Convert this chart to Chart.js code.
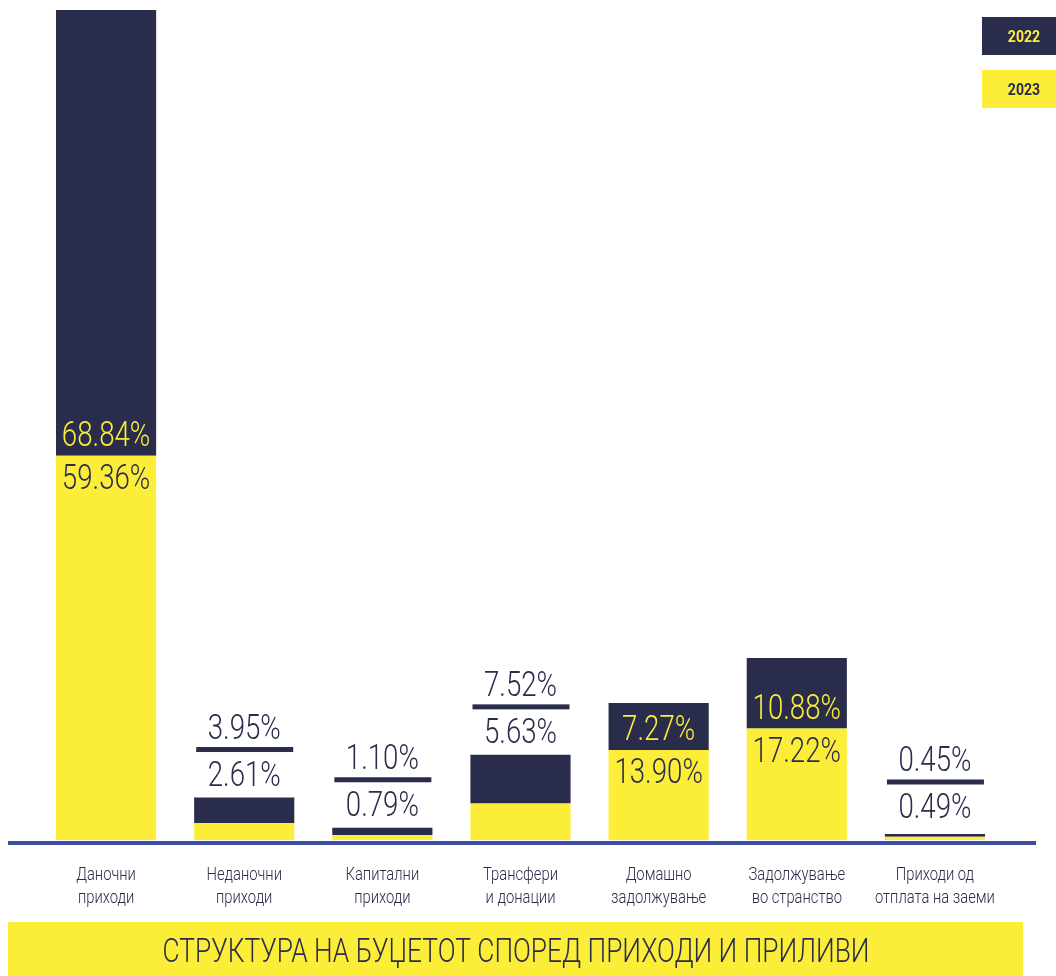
<!DOCTYPE html>
<html>
<head>
<meta charset="utf-8">
<script src="https://cdn.jsdelivr.net/npm/chart.js@4"></script>
<style>
  body { margin: 0; background: #fff; }
  canvas { display: block; }
</style>
</head>
<body>
<canvas id="chart" width="1056" height="976"></canvas>
<script>
// податоци
const categories = [
    ['Даночни', 'приходи'],
    ['Неданочни', 'приходи'],
    ['Капитални', 'приходи'],
    ['Трансфери', 'и донации'],
    ['Домашно', 'задолжување'],
    ['Задолжување', 'во странство'],
    ['Приходи од', 'отплата на заеми']
];
const values2022 = [68.84, 3.95, 1.10, 7.52, 7.27, 10.88, 0.45];
const values2023 = [59.36, 2.61, 0.79, 5.63, 13.90, 17.22, 0.49];
const seriesLabels = ['2022', '2023'];
const chartTitle = 'СТРУКТУРА НА БУЏЕТОТ СПОРЕД ПРИХОДИ И ПРИЛИВИ';

const NAVY = '#292c4b';
const YELLOW = '#fcee38';
const BLUE = '#3c4c9e';

const yMax = Math.max(...values2022.map((v, i) => v + values2023[i]));

function drawText(ctx, text, x, y, font, color, sx) {
    ctx.save();
    ctx.font = font;
    ctx.fillStyle = color;
    ctx.textAlign = 'center';
    ctx.translate(x, y);
    ctx.scale(sx, 1);
    ctx.fillText(text, 0, 0);
    ctx.restore();
}

const fmt = v => v.toFixed(2) + '%';

const decorPlugin = {
    id: 'decor',
    afterDatasetsDraw(chart) {
        const ctx = chart.ctx;
        const low = chart.getDatasetMeta(0);   // 2023
        const high = chart.getDatasetMeta(1);  // 2022
        const valueFont = '300 35px Roboto';

        categories.forEach((cat, i) => {
            const lb = low.data[i];
            const hb = high.data[i];
            const x = lb.x;
            const base = lb.base;
            const boundary = lb.y;
            const top = hb.y;
            const yellowH = base - boundary;
            const darkH = boundary - top;

            if (yellowH > 50 && darkH > 40) {
                drawText(ctx, fmt(values2022[i]), x, boundary - 10, valueFont, YELLOW, 0.79);
                drawText(ctx, fmt(values2023[i]), x, boundary + 33, valueFont, NAVY, 0.79);
            } else {
                const lineY = Math.min(top - 48, base - 58);
                ctx.fillStyle = NAVY;
                ctx.fillRect(x - 48, lineY - 2.5, 97, 5);
                drawText(ctx, fmt(values2022[i]), x, lineY - 11, valueFont, NAVY, 0.79);
                drawText(ctx, fmt(values2023[i]), x, lineY + 36, valueFont, NAVY, 0.79);
            }

            // категории
            ctx.save();
            ctx.textBaseline = 'middle';
            drawText(ctx, cat[0], x, base + 35, '300 18px Roboto', NAVY, 0.82);
            drawText(ctx, cat[1], x, base + 58, '300 18px Roboto', NAVY, 0.82);
            ctx.restore();
        });

        // основна линија
        const y0 = chart.scales.y.getPixelForValue(0);
        ctx.fillStyle = BLUE;
        ctx.fillRect(8, y0 + 1, 1028, 4);

        // наслов
        ctx.fillStyle = YELLOW;
        ctx.fillRect(8, 922, 1015, 54);
        ctx.save();
        ctx.font = '300 34px Roboto';
        const w = ctx.measureText(chartTitle).width;
        ctx.restore();
        drawText(ctx, chartTitle, 516, 962, '300 34px Roboto', NAVY, 707 / w);

        // легенда
        const legendColors = [NAVY, YELLOW];
        const legendText = [YELLOW, NAVY];
        seriesLabels.forEach((lab, k) => {
            const y = 17 + k * 53;
            ctx.fillStyle = legendColors[k];
            ctx.fillRect(982, y, 74, 38);
            drawText(ctx, lab, 1024, y + 25, 'bold 16px Roboto', legendText[k], 0.88);
        });
    }
};

new Chart(document.getElementById('chart'), {
    type: 'bar',
    data: {
        labels: categories,
        datasets: [
            {
                label: seriesLabels[1],
                data: values2023,
                backgroundColor: YELLOW,
                borderWidth: 0
            },
            {
                label: seriesLabels[0],
                data: values2022,
                backgroundColor: NAVY,
                borderWidth: 0
            }
        ]
    },
    options: {
        responsive: false,
        animation: false,
        layout: { padding: { left: 37, right: 52, top: 10, bottom: 136 } },
        datasets: { bar: { barPercentage: 0.725, categoryPercentage: 1 } },
        scales: {
            x: { stacked: true, display: false },
            y: { stacked: true, display: false, min: 0, max: yMax }
        },
        plugins: {
            legend: { display: false },
            tooltip: { enabled: false }
        }
    },
    plugins: [decorPlugin]
});
</script>
</body>
</html>
